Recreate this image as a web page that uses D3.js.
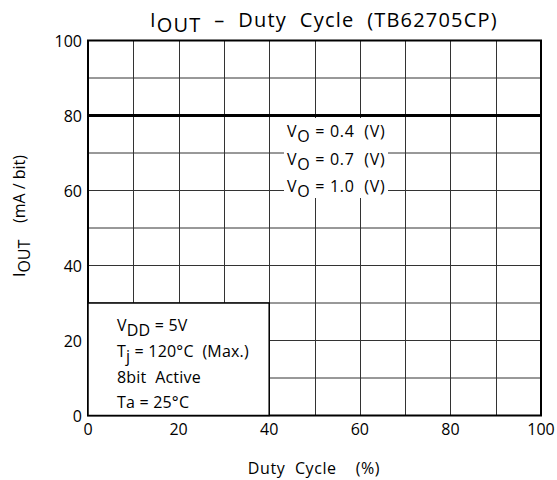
<!DOCTYPE html>
<html>
<head>
<meta charset="utf-8">
<script src="https://cdn.jsdelivr.net/npm/d3@7"></script>
<style>
  body { margin: 0; background: #fff; }
  svg text { font-family: "Open Sans", "Noto Sans", sans-serif; fill: #000; white-space: pre; }
</style>
</head>
<body>
<svg id="chart" width="557" height="480"></svg>
<script>
// data
const duty = [0, 100];
const series = [
  { name: "0.4", values: [80, 80] },
  { name: "0.7", values: [80, 80] },
  { name: "1.0", values: [80, 80] }
];
const xTicks = [0, 20, 40, 60, 80, 100];
const yTicks = [0, 20, 40, 60, 80, 100];
const gridSteps = d3.range(0, 101, 10);
const conditions = ["VDD = 5V", "Tj = 120°C (Max.)", "8bit Active", "Ta = 25°C"];

const svg = d3.select('#chart');
const pLeft = 88, pRight = 541, pTop = 40.5, pBottom = 415.5;

const x = d3.scaleLinear().domain([0, 100]).range([pLeft, pRight]);
const y = d3.scaleLinear().domain([0, 100]).range([pBottom, pTop]);

// grid
const grid = svg.append('g').attr('stroke', '#333').attr('stroke-width', 1);
grid.selectAll('.vx').data(gridSteps).enter().append('line')
  .attr('x1', d => Math.round(x(d)) + 0.5).attr('x2', d => Math.round(x(d)) + 0.5)
  .attr('y1', pTop).attr('y2', pBottom);
grid.selectAll('.hy').data(gridSteps).enter().append('line')
  .attr('x1', pLeft).attr('x2', pRight)
  .attr('y1', d => y(d)).attr('y2', d => y(d));

// legend blanking box
svg.append('rect').attr('x', 284).attr('y', 118).attr('width', 104).attr('height', 80)
  .attr('fill', '#fff');

// the three curves (all overlap at 80 mA)
const line = d3.line().x((d, i) => x(duty[i])).y(d => y(d));
svg.selectAll('.curve').data(series).enter().append('path')
  .attr('d', d => line(d.values))
  .attr('fill', 'none').attr('stroke', '#000').attr('stroke-width', 3);

// frame
svg.append('rect').attr('x', pLeft).attr('y', pTop).attr('width', pRight - pLeft).attr('height', pBottom - pTop)
  .attr('fill', 'none').attr('stroke', '#000').attr('stroke-width', 2);

// conditions box
svg.append('rect').attr('x', x(0)).attr('y', y(30)).attr('width', x(40) - x(0)).attr('height', y(0) - y(30))
  .attr('fill', '#fff').attr('stroke', '#000').attr('stroke-width', 1.5);

const cond = svg.append('g').attr('font-size', 16).attr('letter-spacing', 0.2);
const condY = [331, 357, 383, 408];
cond.append('text').attr('x', 117).attr('y', condY[0])
  .html('V<tspan dy="5">DD</tspan><tspan dy="-5"> = 5V</tspan>');
cond.append('text').attr('x', 117).attr('y', condY[1])
  .html('T<tspan dy="5">j</tspan><tspan dy="-5"> = 120°C  (Max.)</tspan>');
cond.append('text').attr('x', 117).attr('y', condY[2]).text('8bit  Active');
cond.append('text').attr('x', 117).attr('y', condY[3]).text(conditions[3]);

// legend text
const leg = svg.append('g').attr('font-size', 16).attr('letter-spacing', 0.7);
series.forEach((s, i) => {
  leg.append('text').attr('x', 287).attr('y', 137 + i * 27.5)
    .html('V<tspan dy="5">O</tspan><tspan dy="-5"> = ' + s.name + '  (V)</tspan>');
});

// tick labels
svg.append('g').attr('font-size', 16).attr('text-anchor', 'end')
  .selectAll('text').data(yTicks).enter().append('text')
  .attr('x', 82).attr('y', d => y(d) + 6).text(d => d);
svg.append('g').attr('font-size', 16).attr('text-anchor', 'middle')
  .selectAll('text').data(xTicks).enter().append('text')
  .attr('x', d => x(d)).attr('y', 435).text(d => d);

// title
svg.append('text').attr('x', 150).attr('y', 27).attr('font-size', 20).attr('letter-spacing', 1.2)
  .html('I<tspan dy="5">OUT</tspan><tspan dy="-5">  –  Duty  Cycle  (TB62705CP)</tspan>');

// axis titles
svg.append('text').attr('x', 314).attr('y', 474).attr('text-anchor', 'middle').attr('font-size', 16)
  .attr('letter-spacing', 0.6).text('Duty  Cycle    (%)');
svg.append('text').attr('transform', 'translate(25,216) rotate(-90)').attr('text-anchor', 'middle')
  .attr('font-size', 16)
  .html('I<tspan dy="5">OUT</tspan><tspan dy="-5">    (mA / bit)</tspan>');
</script>
</body>
</html>
